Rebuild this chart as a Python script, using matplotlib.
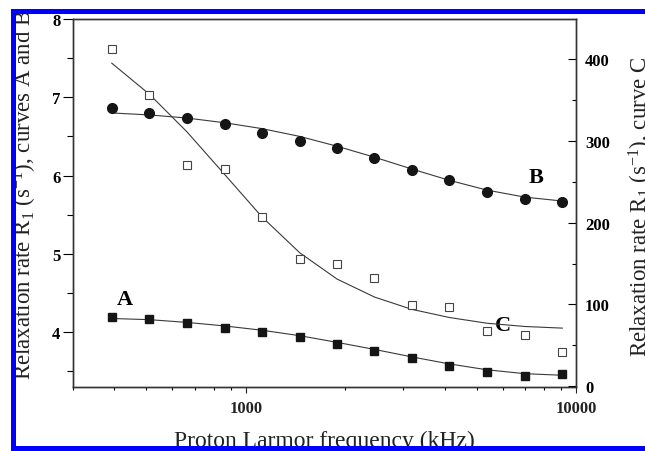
import matplotlib
matplotlib.use("Agg")
import matplotlib.pyplot as plt
from matplotlib.patches import Rectangle
from matplotlib.ticker import MultipleLocator, LogLocator, NullFormatter

plt.rcParams['font.family'] = ['Liberation Serif', 'DejaVu Serif']
plt.rcParams['mathtext.default'] = 'regular'

# ---- data ----
freq_khz = [393, 511, 664, 863, 1120, 1459, 1890, 2454, 3180, 4133, 5373, 6997, 9093]
rate_A = [4.20, 4.17, 4.115, 4.057, 4.003, 3.94, 3.846, 3.76, 3.675, 3.565, 3.495, 3.445, 3.46]
rate_B = [6.86, 6.80, 6.73, 6.655, 6.55, 6.445, 6.35, 6.225, 6.077, 5.95, 5.795, 5.70, 5.667]
rate_C = [412, 356, 270, 265.5, 207, 155, 150, 132, 99.5, 96.6, 68, 62, 42]

fit_A = [4.175, 4.16, 4.125, 4.08, 4.025, 3.955, 3.87, 3.78, 3.685, 3.595, 3.52, 3.47, 3.45]
fit_B = [6.80, 6.775, 6.735, 6.675, 6.60, 6.50, 6.375, 6.235, 6.085, 5.94, 5.815, 5.725, 5.675]
fit_C = [395, 357, 311, 259, 207, 163, 131, 109, 94, 84, 77, 73, 71]

x_ticks = [1000, 10000]
x_tick_labels = ['1000', '10000']
left_ticks = [4, 5, 6, 7, 8]
right_ticks = [0, 100, 200, 300, 400]

W, H = 645, 452
fig = plt.figure(figsize=(W / 100, H / 100), dpi=100)
ax = fig.add_axes([73 / W, 1 - 388 / H, (576 - 73) / W, (388 - 20) / H])
ax.set_xscale('log')
ax.set_xlim(300, 10000)
ax.set_ylim(3.3, 8.0)
ax2 = ax.twinx()
ax2.set_ylim(-1, 449)

dark = '#151515'
linec = '#3a3a3a'

ax.plot(freq_khz, fit_A, '-', color=linec, lw=0.8, zorder=2)
ax.plot(freq_khz, fit_B, '-', color=linec, lw=0.8, zorder=2)
ax.plot(freq_khz, rate_A, 's', ms=6, color=dark, zorder=3)
ax.plot(freq_khz, rate_B, 'o', ms=7, color=dark, zorder=3)
ax2.plot(freq_khz, fit_C, '-', color=linec, lw=0.8, zorder=2)
ax2.plot(freq_khz, rate_C, 's', ms=5.5, mfc='white', mec='#444444', mew=0.8, zorder=3)

# ticks
ax.set_xticks(x_ticks, x_tick_labels)
ax.xaxis.set_minor_locator(LogLocator(base=10, subs=range(2, 10)))
ax.xaxis.set_minor_formatter(NullFormatter())
ax.set_yticks(left_ticks, [str(v) for v in left_ticks])
ax.yaxis.set_minor_locator(MultipleLocator(0.5))
ax2.set_yticks(right_ticks, [str(v) for v in right_ticks])
ax2.yaxis.set_minor_locator(MultipleLocator(50))

ax.tick_params(axis='x', which='major', direction='out', length=4.5, width=0.8,
               pad=5, labelsize=12, top=False, colors='#222222')
ax.tick_params(axis='x', which='minor', direction='out', length=2.5, width=0.8, top=False)
ax.tick_params(axis='y', which='major', direction='out', length=7, width=0.8,
               pad=2, labelsize=12, right=False)
ax.tick_params(axis='y', which='minor', direction='out', length=4.5, width=0.8, right=False)
ax2.tick_params(axis='y', which='major', direction='in', length=6, width=0.8,
                pad=6.5, labelsize=12)
ax2.tick_params(axis='y', which='minor', direction='in', length=3, width=0.8)

for lab in ax.get_xticklabels() + ax.get_yticklabels() + ax2.get_yticklabels():
    lab.set_fontweight('bold')

for a in (ax, ax2):
    for s in a.spines.values():
        s.set_color('#333333')
        s.set_linewidth(1.0)

# curve labels
ax.text(0.103, 0.239, 'A', transform=ax.transAxes, ha='center', va='center',
        fontsize=16, fontweight='bold')
ax.text(0.92, 0.571, 'B', transform=ax.transAxes, ha='center', va='center',
        fontsize=16, fontweight='bold')
ax.text(0.855, 0.168, 'C', transform=ax.transAxes, ha='center', va='center',
        fontsize=16, fontweight='bold')

# axis labels
ax.set_xlabel('Proton Larmor frequency (kHz)', fontsize=17, color='#222222')
ax.xaxis.set_label_coords(0.5, (388 - 447) / 368)
ax.xaxis.label.set_va('baseline')

ax.set_ylabel(r'Relaxation rate R$_1$ (s$^{-1}$), curves A and B', fontsize=16.5, color='#222222')
ax.yaxis.set_label_coords((32 - 73) / 503, (388 - 380) / 368)
ax.yaxis.label.set(ha='left', va='baseline', rotation=90, rotation_mode='anchor')

ax2.set_ylabel(r'Relaxation rate R$_1$ (s$^{-1}$), curve C', fontsize=16.5, color='#222222')
ax2.yaxis.set_label_coords((648 - 73) / 503, (388 - 357) / 368)
ax2.yaxis.label.set(ha='left', va='baseline', rotation=90, rotation_mode='anchor')

# frame: white margin + blue border drawn over everything
tf = fig.transFigure
fig.add_artist(Rectangle((0, 1 - 10 / H), 1, 10 / H, transform=tf, color='white', zorder=20, lw=0))
fig.add_artist(Rectangle((0, 0), 11 / W, 1, transform=tf, color='white', zorder=20, lw=0))
blue = '#0000ff'
fig.add_artist(Rectangle((11 / W, 1 - 15 / H), 1, 5 / H, transform=tf, color=blue, zorder=21, lw=0))
fig.add_artist(Rectangle((11 / W, 0), 5 / W, 1 - 10 / H, transform=tf, color=blue, zorder=21, lw=0))
fig.add_artist(Rectangle((11 / W, 0), 1, 5 / H, transform=tf, color=blue, zorder=21, lw=0))

fig.savefig('out.png', dpi=100)
